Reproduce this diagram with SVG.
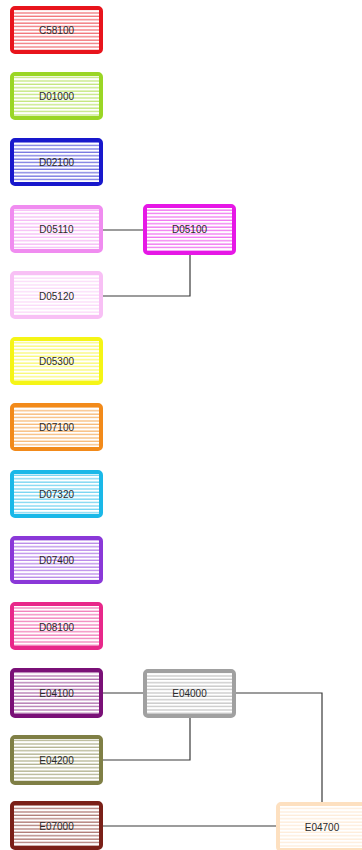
<svg xmlns="http://www.w3.org/2000/svg" width="362" height="850" viewBox="0 0 362 850">
<style>
.box{stroke-width:4;fill-opacity:0.6}
.str{fill:url(#stripes)}
.lbl{font-family:"Liberation Sans",Arial,sans-serif;font-size:10px;fill:#2a2a2a;text-anchor:middle;dominant-baseline:central}
.conn path{fill:none;stroke:#3a3a3a;stroke-width:1.2}
</style>
<defs>
<pattern id="stripes" patternUnits="userSpaceOnUse" x="0" y="0" width="8" height="3.4">
<rect x="0" y="0" width="8" height="2.1" fill="#fff"/>
</pattern>
</defs>
<rect width="362" height="850" fill="#fff"/>
<g class="conn">
<path d="M103 230H143"/>
<path d="M103 296H190V255"/>
<path d="M103 693H143"/>
<path d="M103 760H190V718"/>
<path d="M236 693H322V802"/>
<path d="M103 826H276"/>
</g>
<g id="C58100"><rect class="box" x="12" y="8" width="89" height="44" rx="3" fill="#e8141c" stroke="#e8141c"/><rect class="str" x="14" y="10" width="85" height="40"/><text class="lbl" x="56.5" y="30">C58100</text></g>
<g id="D01000"><rect class="box" x="12" y="74" width="89" height="44" rx="3" fill="#9ad625" stroke="#9ad625"/><rect class="str" x="14" y="76" width="85" height="40"/><text class="lbl" x="56.5" y="96">D01000</text></g>
<g id="D02100"><rect class="box" x="12" y="140" width="89" height="44" rx="3" fill="#1818cc" stroke="#1818cc"/><rect class="str" x="14" y="142" width="85" height="40"/><text class="lbl" x="56.5" y="162">D02100</text></g>
<g id="D05110"><rect class="box" x="12" y="207" width="89" height="44" rx="3" fill="#f08cf0" stroke="#f08cf0"/><rect class="str" x="14" y="209" width="85" height="40"/><text class="lbl" x="56.5" y="229">D05110</text></g>
<g id="D05100"><rect class="box" x="145" y="206" width="89" height="47" rx="3" fill="#e617e6" stroke="#e617e6"/><rect class="str" x="147" y="208" width="85" height="43"/><text class="lbl" x="189.5" y="229">D05100</text></g>
<g id="D05120"><rect class="box" x="12" y="273" width="89" height="44" rx="3" fill="#f8c0f5" stroke="#f8c0f5"/><rect class="str" x="14" y="275" width="85" height="40"/><text class="lbl" x="56.5" y="296">D05120</text></g>
<g id="D05300"><rect class="box" x="12" y="339" width="89" height="44" rx="3" fill="#f5f516" stroke="#f5f516"/><rect class="str" x="14" y="341" width="85" height="40"/><text class="lbl" x="56.5" y="361">D05300</text></g>
<g id="D07100"><rect class="box" x="12" y="405" width="89" height="44" rx="3" fill="#f28a1a" stroke="#f28a1a"/><rect class="str" x="14" y="407" width="85" height="40"/><text class="lbl" x="56.5" y="427">D07100</text></g>
<g id="D07320"><rect class="box" x="12" y="472" width="89" height="44" rx="3" fill="#1ab8e8" stroke="#1ab8e8"/><rect class="str" x="14" y="474" width="85" height="40"/><text class="lbl" x="56.5" y="494">D07320</text></g>
<g id="D07400"><rect class="box" x="12" y="538" width="89" height="44" rx="3" fill="#8a38d8" stroke="#8a38d8"/><rect class="str" x="14" y="540" width="85" height="40"/><text class="lbl" x="56.5" y="560">D07400</text></g>
<g id="D08100"><rect class="box" x="12" y="604" width="89" height="44" rx="3" fill="#e8288a" stroke="#e8288a"/><rect class="str" x="14" y="606" width="85" height="40"/><text class="lbl" x="56.5" y="627">D08100</text></g>
<g id="E04100"><rect class="box" x="12" y="670" width="89" height="46" rx="3" fill="#7a1077" stroke="#7a1077"/><rect class="str" x="14" y="672" width="85" height="42"/><text class="lbl" x="56.5" y="693">E04100</text></g>
<g id="E04000"><rect class="box" x="145" y="671" width="89" height="45" rx="3" fill="#a0a0a0" stroke="#a0a0a0"/><rect class="str" x="147" y="673" width="85" height="41"/><text class="lbl" x="189.5" y="693">E04000</text></g>
<g id="E04200"><rect class="box" x="12" y="737" width="89" height="46" rx="3" fill="#7f7f45" stroke="#7f7f45"/><rect class="str" x="14" y="739" width="85" height="42"/><text class="lbl" x="56.5" y="760">E04200</text></g>
<g id="E07000"><rect class="box" x="12" y="803" width="89" height="45" rx="3" fill="#7a2018" stroke="#7a2018"/><rect class="str" x="14" y="805" width="85" height="41"/><text class="lbl" x="56.5" y="826">E07000</text></g>
<g id="E04700"><rect class="box" x="278" y="804" width="89" height="46" rx="3" fill="#fde0c0" stroke="#fde0c0"/><rect class="str" x="280" y="806" width="85" height="42"/><text class="lbl" x="322" y="827">E04700</text></g>
</svg>
